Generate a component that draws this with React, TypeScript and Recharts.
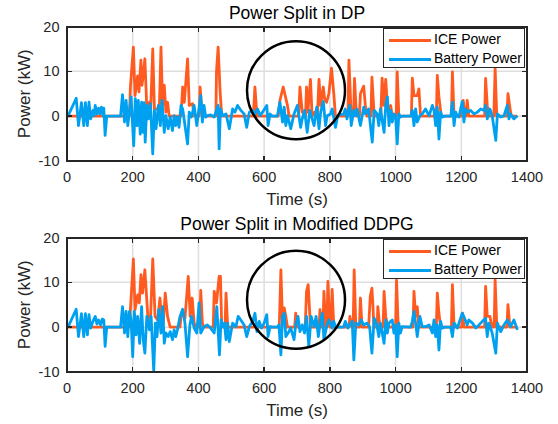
import React from 'react';
import { LineChart, Line, XAxis, YAxis, ReferenceLine, ReferenceDot, Label } from 'recharts';

// [time (s), power (kW)]
const ICE_DP: [number, number][] = [
  [0, 0], [190, 0], [193, 6.5], [202, 15.4], [207, 4.6], [215, 9], [219, 5.4], [225, 12.5], [228, 6.9], [232, 9],
  [237, 12.8], [243, 1.6], [251, 3.1], [254, 0.1], [261, 15], [266, 1.6], [281, 1.6], [286, 15.4], [291, 2.4],
  [296, 6.9], [301, 0.9], [306, 3.1], [311, 0],
  [347, 0], [352, 6.5], [357, 3.1], [367, 12.8], [372, 2.4], [382, 2.8], [387, 0],
  [402, 0], [405, 6.5], [412, 0],
  [453, 0], [455, 10], [460, 15.4], [466, 5.4], [471, 0],
  [567, 0], [572, 6.5], [578, 0],
  [643, 0], [648, 3.5], [658, 6.5], [664, 4.6], [671, 2.4], [676, 0],
  [705, 0], [709, 6.5], [716, 0.9], [726, 0], [729, 6.5], [733, 0.9], [741, 8.2], [746, 0], [754, 0.9], [762, 0],
  [767, 8.2], [772, 2.4], [780, 6.5], [784, 3.9], [790, 3.1], [797, 5], [805, 10.7], [812, 5], [817, 0],
  [855, 0], [858, 12.5], [865, 0], [872, 0], [875, 8.4], [881, 0], [890, 0], [893, 5], [903, 6.7], [908, 2.4], [913, 0],
  [925, 0], [928, 8.7], [935, 0],
  [955, 0], [959, 8.5], [965, 2.4], [970, 8.2], [975, 2.4], [980, 1.6], [985, 2.4], [990, 0],
  [1002, 0], [1005, 9.9], [1010, 0],
  [1048, 0], [1051, 8.5], [1056, 4.6], [1066, 4.6], [1071, 6.1], [1076, 0],
  [1124, 0], [1127, 9.1], [1132, 4.3], [1139, 0],
  [1170, 0], [1173, 9.9], [1178, 0],
  [1203, 0], [1206, 3.5], [1211, 0], [1215, 0], [1218, 3.5], [1223, 0],
  [1271, 0], [1274, 8.4], [1279, 2.4], [1284, 0],
  [1299, 0], [1303, 10.6], [1308, 0],
  [1339, 0], [1342, 5], [1347, 2.4], [1352, 0], [1370, 0],
];

const BATT_DP: [number, number][] = [
  [0, 0], [3, 0], [28, 4], [35, -2.1], [44, 3], [51, -2.1], [56, 3], [62, -2.1], [67, 3.1], [72, -0.6], [79, 1.3],
  [82, 0.1], [86, 2.4], [91, 0.5], [96, 1.8], [100, 0.5], [105, 2], [110, 0.1], [112, 1.8], [116, -4.3], [121, 0],
  [163, 0], [169, 4.8], [175, -1.3], [180, 3.5], [185, -2.1], [195, 4.3], [203, -6.6], [208, 3.9], [213, -2.1],
  [217, 3.5], [223, -4], [227, 3.1], [231, -3.6], [235, 3], [238, -5.8], [243, 2.4], [248, -0.6], [254, 2.8],
  [261, -8.4], [266, 1.3], [271, -2.8], [278, 2.4], [284, -2.1], [289, 3.5], [296, -3.6], [301, 0.1], [308, -2.8],
  [314, -0.2], [321, -3.2], [326, 0.1], [331, -2.1], [336, -0.2], [341, -2.5], [347, 2.4], [352, 1.6], [367, -6.2],
  [372, 0.9], [379, -0.2], [387, 2.4], [395, -2.1], [407, 4.6], [412, -1.3], [417, 2.4], [422, -0.2], [427, 0.1],
  [437, 0.3], [448, -0.2], [460, 2.4], [463, -7.3],
  [467, 1.6], [474, 0.1], [484, 0.5], [494, -2.8], [504, 1.6], [511, 0.9], [519, 2.4], [529, 1.3], [539, 0.5],
  [547, -2.5], [555, 0.9], [565, 1.3], [572, 0.5], [580, 1.6], [588, 0.1], [608, 2.4], [612, -2.1], [618, 0.5],
  [625, 0], [640, 0], [648, 3.1], [656, -1.3], [661, 2], [666, -2.1], [671, 0.1], [681, -2.8], [691, 0.5],
  [701, 2.4], [711, -2.5], [716, -0.6], [723, 1.3], [731, -3.6], [739, 1.3], [752, -2.1], [760, 2], [767, -2.8],
  [772, 0.9], [780, 3.3], [787, -2.1], [792, 0.1], [802, 0.5], [807, 1.6], [817, -2.5], [824, 0.1], [842, 0.5],
  [847, 1.6], [852, -0.6], [861, 2.4], [865, -2.1], [873, 1.3], [878, 0.1], [883, 1.6], [893, -2.1], [903, 2],
  [908, 0.5], [918, 1.6], [929, -5.8], [935, 1.3],
  [944, 0.5], [949, -2.1], [954, 1.6], [965, -3.6], [970, 2.4], [975, 4.3], [980, -2.1], [985, 1.3], [990, -1.3],
  [995, 0.5], [1000, 0.1], [1005, -6.2], [1010, 0.5], [1015, -0.2], [1020, 0], [1046, 0], [1051, 1.3],
  [1056, -2.1], [1061, 1.6], [1066, -1.3], [1074, 0.1], [1081, 0.5], [1091, 1.6], [1102, 0.1], [1112, 2.4],
  [1117, 1.3], [1122, -2.1], [1127, 2], [1132, -5.1], [1137, 0.9], [1142, -0.2], [1150, 0], [1168, 0],
  [1173, 3.1], [1178, -2.1], [1183, 0.9], [1188, 0], [1193, -0.2], [1203, 3.3], [1208, -1.3], [1213, 1.6],
  [1220, 0.9], [1228, 1.3], [1239, 0.5], [1249, 0.9], [1259, 1.6], [1269, 1.3], [1274, 2.4], [1279, -0.6],
  [1287, 1.6], [1294, 0.1], [1305, -5.4], [1310, 0.5], [1320, -0.2], [1330, 0.1], [1335, 1.3], [1340, 2.4],
  [1345, -0.6], [1350, 0.5], [1360, -0.6], [1371, 0.1],
];

const ICE_DDPG: [number, number][] = [
  [0, 0], [190, 0], [193, 3.9], [202, 15.2], [207, 3.9], [215, 7.2], [220, 5.4], [225, 11.7], [230, 7.6],
  [237, 12.8], [246, 2.4], [254, 1.6], [261, 15.2], [268, 2.4], [276, 1.6], [283, 6.5], [288, 1.6], [293, 0.9],
  [299, 7.6], [306, 2.4], [314, 0],
  [344, 0], [347, 2.4], [352, 3.1], [359, 2], [369, 11.3], [375, 2.4], [381, 6.5], [387, 0.9], [395, 0],
  [404, 0], [407, 8.2], [412, 0.9], [416, 0],
  [445, 0], [448, 8], [455, 5.4], [463, 11.3], [467, 11.3], [471, 0],
  [481, 0], [484, 7.6], [489, 0],
  [646, 0], [651, 12.8], [656, 0.9], [661, 4.3], [666, 2.4], [671, 0],
  [693, 0], [696, 3.1], [701, 0],
  [725, 0], [729, 8], [734, 9.5], [741, 0],
  [767, 0], [770, 3.9], [774, 0], [779, 0], [782, 8], [787, 0], [791, 0], [794, 10.2], [800, 0], [803, 0],
  [807, 8.4], [812, 0],
  [858, 0], [861, 2.4], [867, 0], [871, 0], [874, 12.8], [879, 0], [890, 0], [893, 6.5], [898, 0],
  [918, 0], [923, 6.9], [928, 8.7], [931, 5], [934, 0],
  [944, 0], [946, 4.6], [952, 0], [962, 0], [965, 8], [970, 2.4], [975, 0.5], [980, 0],
  [1000, 0], [1003, 10.5], [1008, 0],
  [1053, 0], [1056, 8], [1061, 2.4], [1066, 4.6], [1071, 0],
  [1124, 0], [1127, 7.6], [1132, 3.1], [1137, 0],
  [1170, 0], [1173, 9.5], [1178, 0],
  [1201, 0], [1204, 3.1], [1208, 0],
  [1271, 0], [1274, 9.1], [1279, 2.4], [1287, 2.4], [1294, 0],
  [1300, 0], [1303, 10.6], [1308, 0],
  [1339, 0], [1342, 5], [1348, 0], [1370, 0],
];

const BATT_DDPG: [number, number][] = [
  [0, 0], [3, 0], [28, 4], [35, -2.1], [44, 3], [51, -2.1], [56, 3], [62, -1.7], [67, 2.8], [72, -0.2], [79, 1.3],
  [86, 2.4], [91, 0.7], [96, 1.6], [102, 0.5], [107, 1.8], [112, 1.6], [116, -4.3], [121, 0],
  [163, 0], [169, 4.6], [175, -1.3], [180, 3.5], [185, -2.1], [190, 3.5], [195, 1.6], [200, -6.6], [205, 3.5],
  [210, -1.7], [215, 2.4], [221, -3.6], [227, 4.6], [232, -2.8], [237, -5.8], [243, 2.4], [251, -0.6], [256, 2.4],
  [264, -9.9], [269, 0.9], [274, -2.1], [279, 3.9], [286, -1.3], [291, 4.6], [296, -3.6], [301, -1.3], [308, -2.1],
  [314, -1], [321, -2.8], [326, -0.6], [331, -2.1], [336, -0.6], [344, 2.4], [352, 4], [359, 0.9], [367, -6.6],
  [374, 0.5], [379, 2.4], [387, -0.2], [395, -1.3], [402, 5.4], [407, -1.3], [417, 0.1], [427, 0.5], [437, -0.2],
  [448, -1.3], [456, 4.6], [464, -6.2],
  [469, 1.6], [474, 0.1], [479, 0.9], [484, -2.8], [489, 0.9], [494, -3.2], [504, 0.9], [514, 0.1], [521, 2.4],
  [529, 1.6], [539, 0.5], [547, -2.1], [555, 0.1], [565, 1.3], [572, 3.1], [578, -1], [585, 1.3], [592, -0.2],
  [600, 0.9], [608, 2.8], [612, -2.1], [618, 0.1], [625, 0], [640, 0], [645, 0.5], [651, -6.2], [656, 2.4],
  [661, 3.1], [666, -2.1], [673, -1.3], [681, -0.2], [691, -2.8], [696, 0.5], [703, 2.4], [709, -1], [716, 0.5],
  [723, -1.3], [729, 2.4], [736, -4.3], [743, 2.4], [752, 0.1], [758, 2.4], [765, -2.1], [772, 1.6], [777, 3.1],
  [782, -2.8], [790, 0.1], [797, 1.6], [802, 0.9], [807, -0.2], [812, 1.3], [817, 0.1], [822, 0], [842, 0],
  [847, 1.3], [855, -0.2], [863, 0.9], [868, 1.3], [873, -7.3], [879, 0.9], [888, 0.5], [895, 1.6], [903, 0.5],
  [913, 0.9], [921, 0.1], [928, -5.8], [935, 2], [943, 0.5],
  [949, -2.1], [954, 0.9], [965, -3.6], [970, 1.6], [975, -1.3], [980, 0.9], [985, 1.3], [990, 1.6], [995, -1.3],
  [1000, 0.5], [1005, -6.6], [1010, 0.9], [1015, -1.3], [1020, 0.1], [1046, 0], [1051, 1.3], [1056, 3.5],
  [1061, 0.9], [1066, -2.1], [1074, 2.4], [1081, 0.1], [1091, 0.1], [1102, 0.5], [1112, -1.3], [1117, 1.6],
  [1122, -2.1], [1127, 0.5], [1132, -5.1], [1137, 1.3], [1142, -0.2], [1150, 0], [1168, 0], [1173, -2.1],
  [1178, 0.9], [1188, -0.2], [1203, 3.1], [1210, 2], [1218, 0.5], [1223, 1.6], [1234, 0.9], [1244, -0.2],
  [1254, 0.5], [1264, 1.3], [1274, 2], [1279, -2.1], [1284, 0.9], [1294, -1.3], [1305, -5.8], [1310, 0.9],
  [1320, -1], [1330, 0.5], [1340, 1.6], [1350, 0.1], [1360, 1.6], [1371, -0.6],
];

const TIME_TICKS = [0, 200, 400, 600, 800, 1000, 1200, 1400];
const POWER_TICKS = [-10, 0, 10, 20];
const SERIES_NAMES = ['ICE Power', 'Battery Power'];

const FONT = 'Arial, "Liberation Sans", Helvetica, sans-serif';
const INK = '#262626';
const GRID = '#dedede';
const ICE_COLOR = '#FF5A1F';
const BATT_COLOR = '#00A0F0';

// plot box inside each 558x212 panel
const BOX = { left: 67, top: 26.5, width: 460, height: 134.5 };

const toRows = (pts: [number, number][]) => pts.map(([t, v]) => ({ t, v }));
const inner = (ticks: number[]) => ticks.slice(1, -1);

const tickStyle = { fill: INK, fontSize: 14.5, fontFamily: FONT };

// MATLAB style box with inward ticks, drawn as plain html on top of the chart
const AxesBox: React.FC = () => {
  const { left, top, width, height } = BOX;
  const bottom = top + height;
  const right = left + width;
  const xAt = (t: number) => left + (t / 1400) * width;
  const yAt = (v: number) => bottom - ((v + 10) / 30) * height;
  const mark = (l: number, t: number, w: number, h: number, key: string) => (
    <div key={key} style={{ position: 'absolute', left: l, top: t, width: w, height: h, background: INK }} />
  );
  return (
    <div style={{ position: 'absolute', left: 0, top: 0, width: 558, height: 212, pointerEvents: 'none', zIndex: 2 }}>
      <div
        style={{
          position: 'absolute', left: left - 1, top: top - 1, width: width + 2, height: height + 2,
          boxSizing: 'border-box', border: `2px solid ${INK}`,
        }}
      />
      {TIME_TICKS.map((t) => mark(xAt(t) - 0.75, bottom - 5, 1.5, 5, `b${t}`))}
      {TIME_TICKS.map((t) => mark(xAt(t) - 0.75, top, 1.5, 5, `t${t}`))}
      {POWER_TICKS.map((v) => mark(left, yAt(v) - 0.75, 5, 1.5, `l${v}`))}
      {POWER_TICKS.map((v) => mark(right - 5, yAt(v) - 0.75, 5, 1.5, `r${v}`))}
    </div>
  );
};

interface PanelProps {
  title: string;
  ice: [number, number][];
  batt: [number, number][];
  circle: [number, number];
}

const PowerPanel: React.FC<PanelProps> = ({ title, ice, batt, circle }) => {
  return (
    <div style={{ position: 'relative', width: 558, height: 212 }}>
      <LineChart width={558} height={212} margin={{ top: 25.5, right: 31, bottom: 0, left: 0 }}>
        <XAxis
          dataKey="t"
          type="number"
          domain={[0, 1400]}
          ticks={TIME_TICKS}
          height={51}
          axisLine={false}
          tickLine={false}
          tickSize={0}
          tickMargin={11}
          tick={tickStyle}
        >
          <Label
            content={(p: any) => {
              const vb = p.viewBox || { x: 67, y: 161, width: 460 };
              return (
                <text x={vb.x + vb.width / 2} y={vb.y + 43.5} textAnchor="middle" fill={INK} fontSize={17} fontFamily={FONT}>
                  Time (s)
                </text>
              );
            }}
          />
        </XAxis>
        <XAxis
          xAxisId="top"
          orientation="top"
          type="number"
          domain={[0, 1400]}
          ticks={TIME_TICKS}
          height={1}
          axisLine={false}
          tickLine={false}
          tick={false}
        >
          <Label
            content={(p: any) => {
              const vb = p.viewBox || { x: 67, y: 25.5, width: 460 };
              return (
                <text x={vb.x + vb.width / 2} y={vb.y - 7} textAnchor="middle" fill="#000" fontSize={17.5} fontFamily={FONT}>
                  {title}
                </text>
              );
            }}
          />
        </XAxis>
        <YAxis
          type="number"
          domain={[-10, 20]}
          ticks={POWER_TICKS}
          width={67}
          axisLine={false}
          tickLine={false}
          tickSize={0}
          tickMargin={7.5}
          tick={tickStyle}
        >
          <Label
            content={(p: any) => {
              const vb = p.viewBox || { x: 0, y: 26.5, height: 134.5 };
              const cx = 24.5;
              const cy = vb.y + vb.height / 2;
              return (
                <text x={cx} y={cy} transform={`rotate(-90 ${cx} ${cy})`} textAnchor="middle" dominantBaseline="central" fill={INK} fontSize={17} fontFamily={FONT}>
                  Power (kW)
                </text>
              );
            }}
          />
        </YAxis>
        {inner(TIME_TICKS).map((t) => (
          <ReferenceLine key={`gx${t}`} x={t} stroke={GRID} strokeWidth={1.5} />
        ))}
        {inner(POWER_TICKS).map((v) => (
          <ReferenceLine key={`gy${v}`} y={v} stroke={GRID} strokeWidth={1.5} />
        ))}
        <Line data={toRows(ice)} dataKey="v" type="linear" stroke={ICE_COLOR} strokeWidth={2.8} strokeLinejoin="round" dot={false} isAnimationActive={false} />
        <Line data={toRows(batt)} dataKey="v" type="linear" stroke={BATT_COLOR} strokeWidth={2.8} strokeLinejoin="round" dot={false} isAnimationActive={false} />
        <ReferenceDot x={circle[0]} y={circle[1]} r={49} fill="none" stroke="#000" strokeWidth={2.5} />
      </LineChart>
      <AxesBox />
      <div
        style={{
          position: 'absolute', left: 383, top: 28, width: 142, height: 40, boxSizing: 'border-box', zIndex: 3,
          border: `1.5px solid ${INK}`, background: '#fff', fontFamily: FONT, fontSize: 14, color: '#000',
        }}
      >
        {SERIES_NAMES.map((name, i) => (
          <div key={name} style={{ position: 'absolute', left: 0, top: 2 + i * 19, height: 17, width: 140 }}>
            <div style={{ position: 'absolute', left: 4.5, top: 7.5, width: 42, height: 3, background: i === 0 ? ICE_COLOR : BATT_COLOR }} />
            <div style={{ position: 'absolute', left: 50, top: 0, lineHeight: '17px', whiteSpace: 'nowrap' }}>{name}</div>
          </div>
        ))}
      </div>
    </div>
  );
};

const App: React.FC = () => {
  return (
    <div style={{ position: 'absolute', left: 0, top: 0, width: 558, height: 424, background: '#fff' }}>
      <div style={{ position: 'absolute', left: 0, top: 0 }}>
        <PowerPanel title="Power Split in DP" ice={ICE_DP} batt={BATT_DP} circle={[697, 5.8]} />
      </div>
      <div style={{ position: 'absolute', left: 0, top: 211 }}>
        <PowerPanel title="Power Split in Modified DDPG" ice={ICE_DDPG} batt={BATT_DDPG} circle={[697, 6.1]} />
      </div>
    </div>
  );
};

export default App;
